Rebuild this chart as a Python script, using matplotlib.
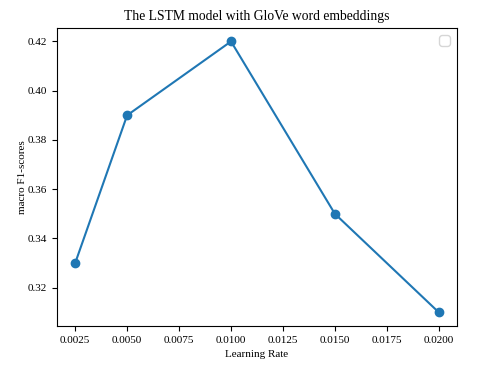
import matplotlib
matplotlib.use("Agg")
import matplotlib.pyplot as plt

plt.rcParams['font.family'] = ['Liberation Serif', 'DejaVu Serif']

# learning rate sweep
learning_rates = [0.0025, 0.005, 0.01, 0.015, 0.02]
f1_scores = [0.33, 0.39, 0.42, 0.35, 0.31]

fig = plt.figure(figsize=(4.79, 3.67), dpi=100)
ax = fig.add_axes([0.119, 0.112, 0.835, 0.812])

ax.plot(learning_rates, f1_scores, marker='o', color='#1f77b4', markersize=6)
ax.set_title('The LSTM model with GloVe word embeddings', fontsize=9.8)
ax.set_xlabel('Learning Rate', fontsize=8)
ax.set_ylabel('macro F1-scores', fontsize=8, labelpad=1)
ax.set_xticks([0.0025, 0.005, 0.0075, 0.01, 0.0125, 0.015, 0.0175, 0.02])
ax.set_yticks([0.32, 0.34, 0.36, 0.38, 0.40, 0.42])
ax.tick_params(labelsize=8)
ax.legend()

fig.savefig('out.png', dpi=100)
